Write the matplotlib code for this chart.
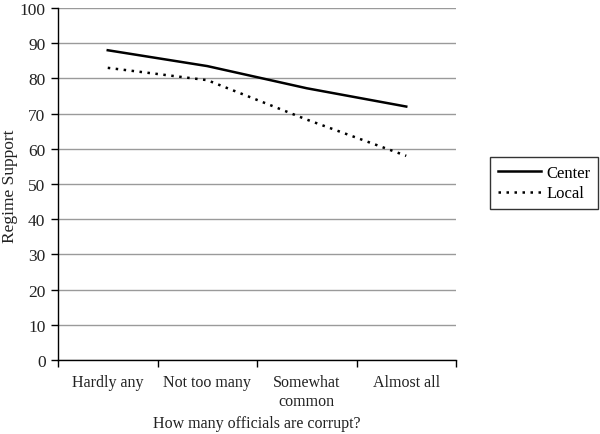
import matplotlib
matplotlib.use('Agg')
import matplotlib.pyplot as plt
import numpy as np

categories = ['Hardly any', 'Not too many', 'Somewhat\ncommon', 'Almost all']
center = [88, 83.5, 77.2, 72]
local = [83, 79.5, 68.3, 58]
yticks = [0, 10, 20, 30, 40, 50, 60, 70, 80, 90, 100]

plt.rcParams['font.family'] = ['Liberation Serif', 'DejaVu Serif']

fig = plt.figure(figsize=(6.0, 4.35), dpi=100)
ax = fig.add_axes([58 / 600, 1 - 361 / 435, 398 / 600, 352 / 435])

x = np.arange(len(categories))
ax.plot(x, center, color='black', lw=1.8, label='Center')
ax.plot(x, local, color='black', lw=1.8, ls=(0, (1, 2.2)), label='Local')

ax.set_xlim(-0.5, len(categories) - 0.5)
ax.set_ylim(0, 100)
ax.set_yticks(yticks)
ax.yaxis.grid(True, color='#9a9a9a', lw=1)
ax.set_axisbelow(True)

ax.set_xticks(x)
ax.set_xticklabels(categories, fontsize=11.5, color='#222222', linespacing=1.3)
ax.set_xticks(np.arange(len(categories) + 1) - 0.5, minor=True)
ax.tick_params(axis='x', which='major', length=0, pad=10)
ax.tick_params(axis='x', which='minor', length=5, width=1, direction='out')
ax.tick_params(axis='y', labelsize=12.5, length=5, width=1, pad=4, labelcolor='#222222')

for s in ['top', 'right']:
    ax.spines[s].set_visible(False)
ax.spines['left'].set_linewidth(1)
ax.spines['bottom'].set_linewidth(1)

fig.text(10 / 600, 1 - 186 / 435, 'Regime Support', fontsize=12.5, color='#222222',
         rotation=90, ha='center', va='center')
fig.text(257 / 600, 1 - 424 / 435, 'How many officials are corrupt?', fontsize=11.5,
         color='#222222', ha='center', va='center')

leg = fig.legend(loc='upper left', bbox_to_anchor=(490 / 600, 1 - 158 / 435),
                 fontsize=12, frameon=True, fancybox=False, edgecolor='black',
                 handlelength=2.6, borderpad=0.45, labelspacing=0.3, handletextpad=0.35,
                 borderaxespad=0)
leg.get_frame().set_linewidth(1)

fig.savefig('out.png', dpi=100)
